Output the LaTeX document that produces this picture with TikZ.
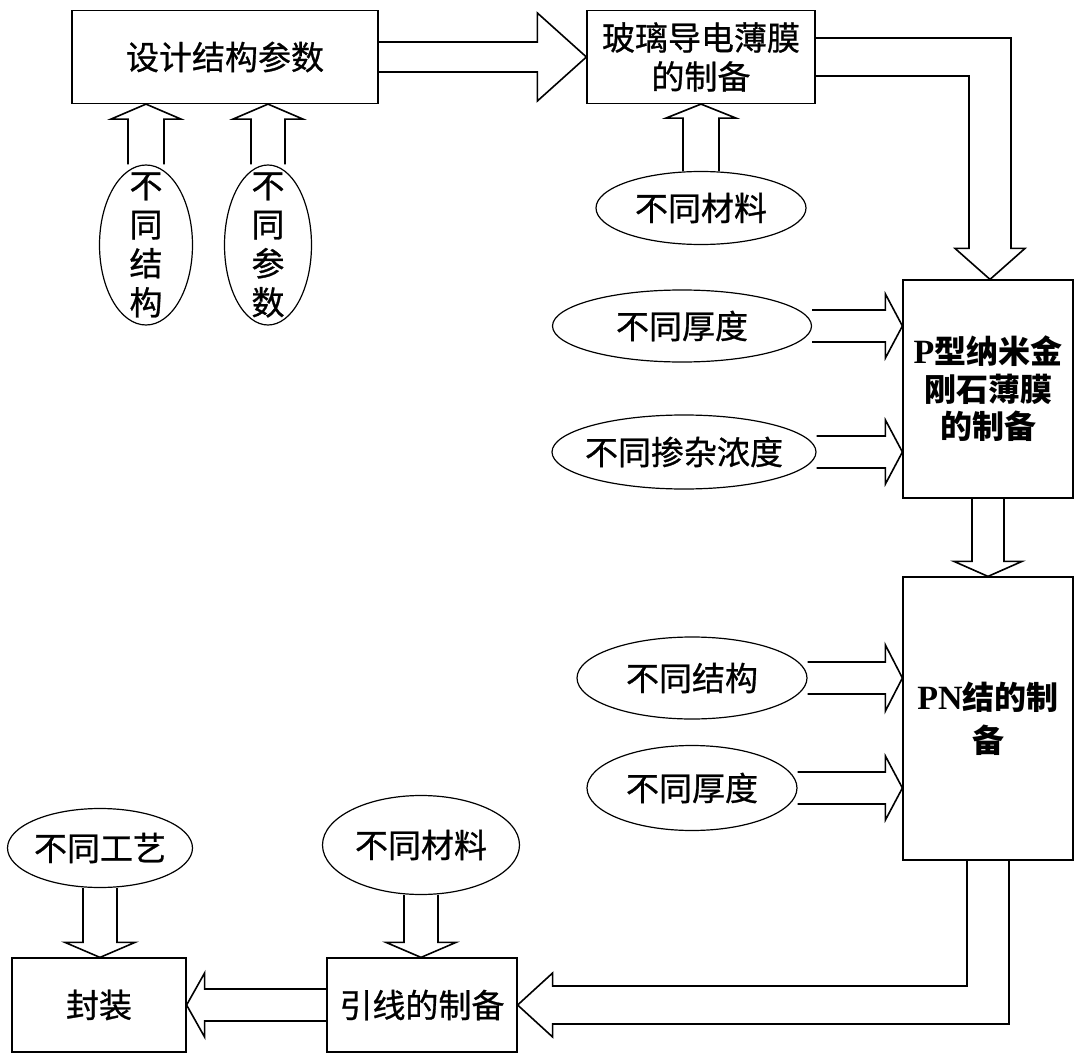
\documentclass[tikz,border=0pt]{standalone}
\usepackage{fontspec}
\setmainfont{Noto Sans CJK SC}[UprightFeatures={FakeBold=0.8}]
\newfontfamily\latb{Liberation Serif}
\usetikzlibrary{calc,shapes.geometric}
\newcommand{\barrow}[5]{%
  \path ($(#2)!#5!(#1)$) coordinate (bah);
  \draw[blk] ($(#1)!#3!90:(#2)$) -- ($(bah)!#3!-90:(#1)$) -- ($(bah)!#4!-90:(#1)$) -- (#2)
    -- ($(bah)!#4!90:(#1)$) -- ($(bah)!#3!90:(#1)$) -- ($(#1)!#3!-90:(#2)$);}
\begin{document}
\begin{tikzpicture}[x=1pt,y=-1pt,
  font=\fontsize{33}{39}\selectfont,
  box/.style={draw, line width=1.2pt, rectangle, inner sep=0pt, align=center},
  ell/.style={draw, line width=1.2pt, ellipse, inner sep=0pt},
  txt/.style={align=center, inner sep=0pt},
  blk/.style={draw, line width=1.6pt, line join=miter}]
\useasboundingbox[fill=white] (0,0) rectangle (1085,1062);

% boxes
\node[box, minimum width=306pt, minimum height=93pt] (A) at (225,57) {设计结构参数};
\node[box, minimum width=228pt, minimum height=93pt] (B) at (701,57) {玻璃导电薄膜\\的制备};
\node[box, minimum width=170pt, minimum height=218pt, font=\fontsize{32}{37.5}\selectfont\bfseries] (C) at (988,389) {{\latb\fontsize{34}{37.5}\selectfont P}型纳米金\\刚石薄膜\\的制备};
\node[box, minimum width=170pt, minimum height=283pt, font=\fontsize{32}{43}\selectfont\bfseries] (D) at (988,718.5) {{\latb\fontsize{34}{43}\selectfont PN}结的制\\备};
\node[box, minimum width=190pt, minimum height=94pt] (E) at (422,1005) {引线的制备};
\node[box, minimum width=174pt, minimum height=94pt] (F) at (99,1005) {封装};

% ellipses
\node[ell, minimum width=93pt, minimum height=160pt] (e1) at (146,245) {};
\node[txt] (t1) at (e1) {不\\同\\结\\构};
\node[ell, minimum width=87pt, minimum height=160pt] (e2) at (268,245) {};
\node[txt] (t2) at (e2) {不\\同\\参\\数};
\node[ell, minimum width=210pt, minimum height=73pt] (e3) at (701,208) {};
\node[txt] (t3) at (e3) {不同材料};
\node[ell, minimum width=259pt, minimum height=72pt] (e4) at (682,326) {};
\node[txt] (t4) at (e4) {不同厚度};
\node[ell, minimum width=264pt, minimum height=74pt] (e5) at (684,452) {};
\node[txt] (t5) at (e5) {不同掺杂浓度};
\node[ell, minimum width=230pt, minimum height=82pt] (e6) at (692,678) {};
\node[txt] (t6) at (e6) {不同结构};
\node[ell, minimum width=210pt, minimum height=85pt] (e7) at (692,788) {};
\node[txt] (t7) at (e7) {不同厚度};
\node[ell, minimum width=185pt, minimum height=79pt] (e8) at (100,848) {};
\node[txt] (t8) at (e8) {不同工艺};
\node[ell, minimum width=197pt, minimum height=99pt] (e9) at (421,845) {};
\node[txt] (t9) at (e9) {不同材料};

% tip coordinates
\coordinate (p1) at (e1.north |- A.south);
\coordinate (p2) at (e2.north |- A.south);
\coordinate (p3) at (e3.north |- B.south);
\coordinate (p4) at (C.west |- e4.east);
\coordinate (p5) at (C.west |- e5.east);
\coordinate (p6) at (D.west |- e6.east);
\coordinate (p7) at (D.west |- e7.east);
\coordinate (p8) at (e8.south |- F.north);
\coordinate (p9) at (e9.south |- E.north);

% straight block arrows
\barrow{A.east}{B.west}{15pt}{44pt}{49pt}
\barrow{e1.north}{p1}{18pt}{35pt}{15pt}
\barrow{e2.north}{p2}{17pt}{35pt}{15pt}
\barrow{e3.north}{p3}{18pt}{35pt}{14pt}
\barrow{e4.east}{p4}{16pt}{32pt}{17pt}
\barrow{e5.east}{p5}{16pt}{32pt}{17pt}
\barrow{C.south}{D.north}{16pt}{34pt}{15pt}
\barrow{e6.east}{p6}{16pt}{33pt}{17pt}
\barrow{e7.east}{p7}{16pt}{32pt}{17pt}
\barrow{E.west}{F.east}{16pt}{32pt}{18pt}
\barrow{e8.south}{p8}{17pt}{35pt}{15pt}
\barrow{e9.south}{p9}{17pt}{35pt}{15pt}

% elbow arrow B -> C
\coordinate (bcT) at ($(C.north)+(2,0)$);
\draw[blk] ($(B.east)+(0,-19)$) -- ($(bcT |- B.east)+(21,-19)$) -- ($(bcT)+(21,-31)$)
  -- ($(bcT)+(35,-31)$) -- (bcT) -- ($(bcT)+(-35,-31)$) -- ($(bcT)+(-21,-31)$)
  -- ($(bcT |- B.east)+(-21,19)$) -- ($(B.east)+(0,19)$);

% elbow arrow D -> E
\draw[blk] ($(D.south)+(-21,0)$) -- ($(D.south |- E.east)+(-21,-19)$) -- ($(E.east)+(35,-19)$)
  -- ($(E.east)+(35,-32)$) -- (E.east) -- ($(E.east)+(35,32)$) -- ($(E.east)+(35,19)$)
  -- ($(D.south |- E.east)+(21,19)$) -- ($(D.south)+(21,0)$);
\end{tikzpicture}
\end{document}
